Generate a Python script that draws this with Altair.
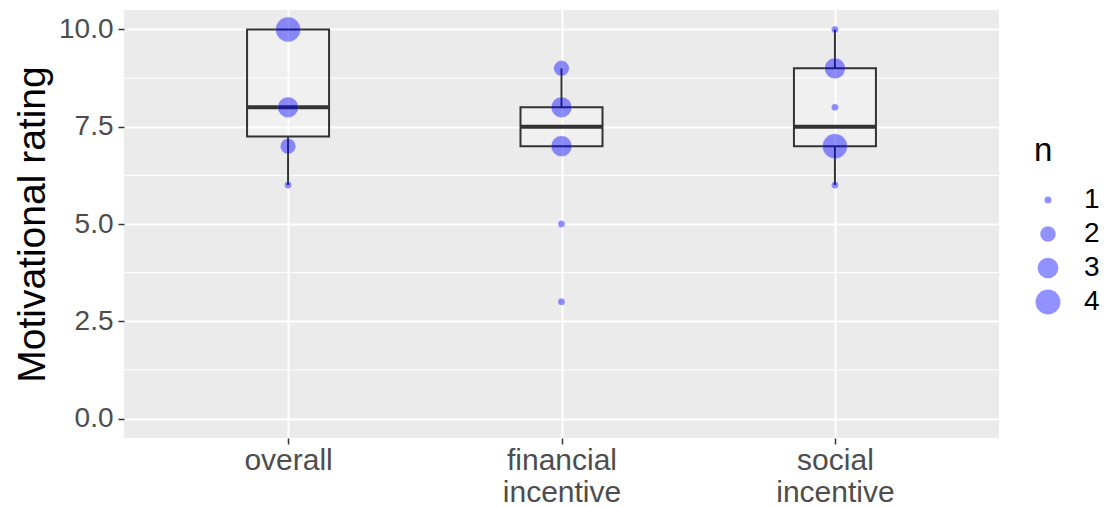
import altair as alt
import pandas as pd

# Ratings per condition with how many respondents gave each rating
categories = ["overall", "financial incentive", "social incentive"]
overall_ratings = [10, 8, 7, 6]
overall_counts = [4, 3, 2, 1]
financial_ratings = [9, 8, 7, 5, 3]
financial_counts = [2, 3, 3, 1, 1]
social_ratings = [10, 9, 8, 7, 6]
social_counts = [1, 3, 1, 4, 1]

y_major = [0, 2.5, 5, 7.5, 10]
y_minor = [1.25, 3.75, 6.25, 8.75]
size_levels = [1, 2, 3, 4]

groups = [
    ("overall", overall_ratings, overall_counts),
    ("financial incentive", financial_ratings, financial_counts),
    ("social incentive", social_ratings, social_counts),
]

count_rows = []
raw_rows = []
for cond, ratings, counts in groups:
    for r, n in zip(ratings, counts):
        count_rows.append({"condition": cond, "rating": r, "n": n})
        raw_rows.extend({"condition": cond, "rating": r} for _ in range(n))

counts_df = pd.DataFrame(count_rows)
raw_df = pd.DataFrame(raw_rows)
minor_df = pd.DataFrame({"rating": y_minor})

FONT = "Liberation Sans"

x_enc = alt.X(
    "condition:N",
    sort=categories,
    scale=alt.Scale(type="point", padding=0.6),
    axis=alt.Axis(
        title=None,
        grid=True,
        gridColor="white",
        gridWidth=2,
        domain=False,
        labelAngle=0,
        labelExpr="split(datum.label, ' ')",
        labelFontSize=30,
        labelColor="#4D4D4D",
        labelFont=FONT,
        labelLineHeight=32,
        labelPadding=1,
        tickColor="#333333",
        tickSize=6,
        tickWidth=1.5,
    ),
)

y_scale = alt.Scale(domain=[-0.5, 10.5], nice=False, zero=False)
y_axis = alt.Axis(
    values=y_major,
    format=".1f",
    title="Motivational rating",
    titleFontSize=39,
    titleFont=FONT,
    titleFontWeight="normal",
    titleColor="black",
    titlePadding=6,
    labelFontSize=28,
    labelFont=FONT,
    labelColor="#4D4D4D",
    labelPadding=5,
    grid=True,
    gridColor="white",
    gridWidth=2,
    domain=False,
    tickColor="#333333",
    tickSize=6,
    tickWidth=1.5,
)

minor_grid = alt.Chart(minor_df).mark_rule(color="white", strokeWidth=1).encode(
    y=alt.Y("rating:Q", scale=y_scale, axis=y_axis)
)

box = alt.Chart(raw_df).mark_boxplot(
    size=82,
    extent=1.5,
    outliers=False,
    box={"fill": "white", "fillOpacity": 0.25, "stroke": "#333333", "strokeWidth": 2},
    median={"color": "#333333", "thickness": 4, "opacity": 1},
    rule={"color": "#333333", "strokeWidth": 2},
).encode(
    x=x_enc,
    y=alt.Y("rating:Q", scale=y_scale, axis=y_axis),
)

points = alt.Chart(counts_df).mark_circle(
    color="#0000FF", opacity=0.43, stroke="white", strokeWidth=0.6, strokeOpacity=0.5
).encode(
    x=alt.X("condition:N", sort=categories),
    y=alt.Y("rating:Q", scale=y_scale),
    size=alt.Size(
        "n:Q",
        scale=alt.Scale(domain=[1, 4], range=[50, 620], zero=False),
        legend=alt.Legend(
            title="n",
            values=size_levels,
            format="d",
            orient="none",
            legendX=910,
            legendY=125,
            titleFontSize=33,
            titleFont=FONT,
            titleFontWeight="normal",
            titleColor="black",
            titlePadding=18,
            labelFontSize=28,
            labelFont=FONT,
            labelColor="black",
            labelOffset=22,
            symbolFillColor="#0000FF",
            symbolOpacity=0.43,
            symbolStrokeWidth=0,
            rowPadding=6,
        ),
    ),
)

chart = (
    alt.layer(minor_grid, box, points)
    .properties(
        width=875,
        height=428,
        autosize=alt.AutoSizeParams(type="none"),
        padding={"left": 124, "top": 10, "right": 110, "bottom": 69},
    )
    .configure(background="white")
    .configure_view(fill="#EBEBEB", stroke=None)
)

chart.save("out.html", embed_options={"renderer": "svg", "actions": False})
